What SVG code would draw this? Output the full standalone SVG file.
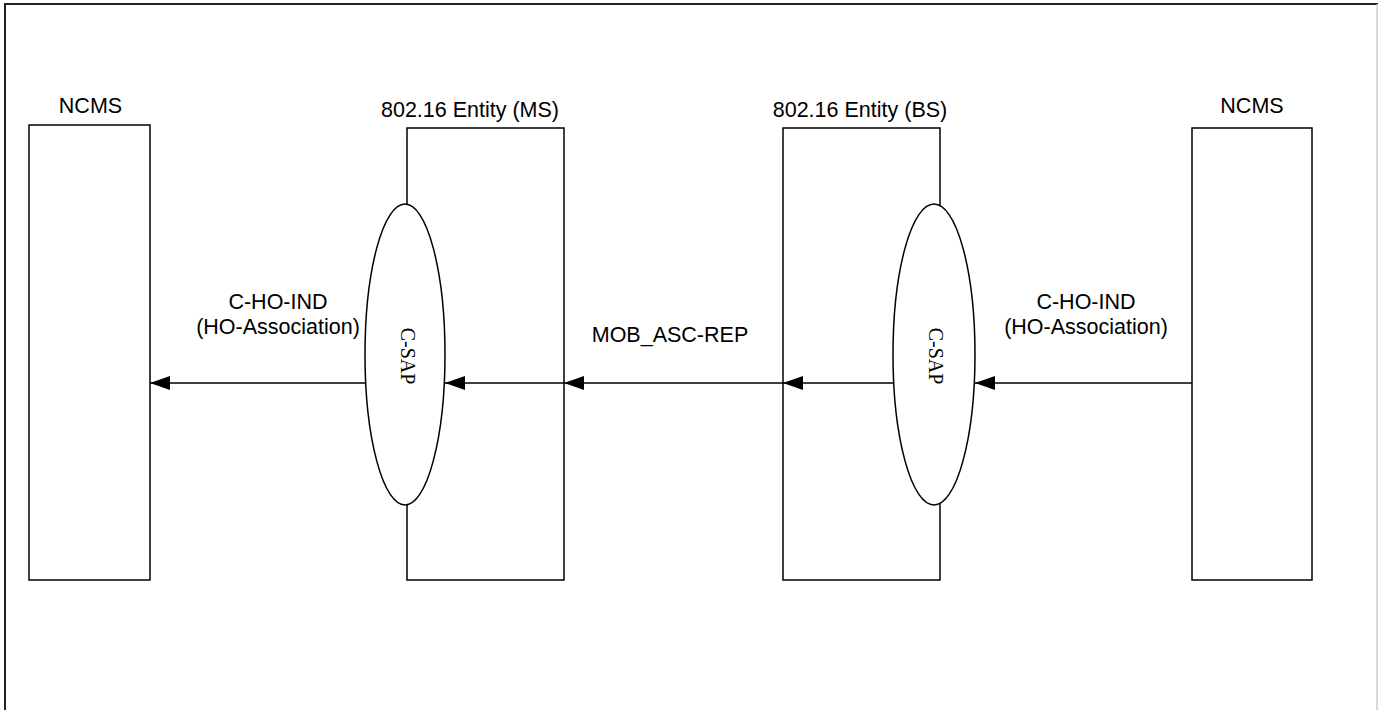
<svg xmlns="http://www.w3.org/2000/svg" width="1378" height="710" viewBox="0 0 1378 710">
<style>
.box{fill:#fff;stroke:#000;stroke-width:1.5}
.lbl{font-family:"Liberation Sans",Arial,sans-serif;font-size:21.5px;fill:#000;text-anchor:middle}
.sap{font-family:"Liberation Serif","Times New Roman",serif;font-size:20px;fill:#000;text-anchor:middle}
.conn{stroke:#000;stroke-width:1.5;fill:none;marker-end:url(#ah)}
.ell{fill:#fff;stroke:#000;stroke-width:1.5}
</style>
<defs>
<marker id="ah" markerWidth="20" markerHeight="14" refX="20" refY="7" orient="auto" markerUnits="userSpaceOnUse">
<path d="M0,0 L20,7 L0,14 Z" fill="#000"/>
</marker>
</defs>
<rect x="0" y="0" width="1378" height="710" fill="#fff"/>
<polyline points="5,710 5,4 1378,4" fill="none" stroke="#222" stroke-width="2"/>
<line x1="1377" y1="4" x2="1377" y2="710" stroke="#ccc" stroke-width="1.5"/>

<g id="ncms-left">
<rect class="box" x="29" y="125" width="121" height="455"/>
<text class="lbl" x="90.5" y="113">NCMS</text>
</g>
<g id="entity-ms">
<rect class="box" x="407" y="128" width="157" height="452"/>
<text class="lbl" x="470" y="117">802.16 Entity (MS)</text>
</g>
<g id="entity-bs">
<rect class="box" x="783" y="128" width="157" height="452"/>
<text class="lbl" x="860" y="117">802.16 Entity (BS)</text>
</g>
<g id="ncms-right">
<rect class="box" x="1192" y="128" width="120" height="452"/>
<text class="lbl" x="1252" y="113">NCMS</text>
</g>
<g id="csap-ms">
<ellipse class="ell" cx="405" cy="354.5" rx="40" ry="150.5"/>
<text class="sap" transform="translate(401,356) rotate(90)">C-SAP</text>
</g>
<g id="csap-bs">
<ellipse class="ell" cx="934" cy="354.5" rx="41" ry="150.5"/>
<text class="sap" transform="translate(929,356) rotate(90)">C-SAP</text>
</g>

<g id="connectors">
<line class="conn" x1="1192" y1="383" x2="975" y2="383"/>
<line class="conn" x1="893" y1="383" x2="783" y2="383"/>
<line class="conn" x1="783" y1="383" x2="564" y2="383"/>
<line class="conn" x1="564" y1="383" x2="445" y2="383"/>
<line class="conn" x1="365" y1="383" x2="150" y2="383"/>
<text class="lbl" x="278" y="309">C-HO-IND</text>
<text class="lbl" x="278" y="334">(HO-Association)</text>
<text class="lbl" x="670" y="342">MOB_ASC-REP</text>
<text class="lbl" x="1086" y="309">C-HO-IND</text>
<text class="lbl" x="1086" y="334">(HO-Association)</text>
</g>
</svg>
